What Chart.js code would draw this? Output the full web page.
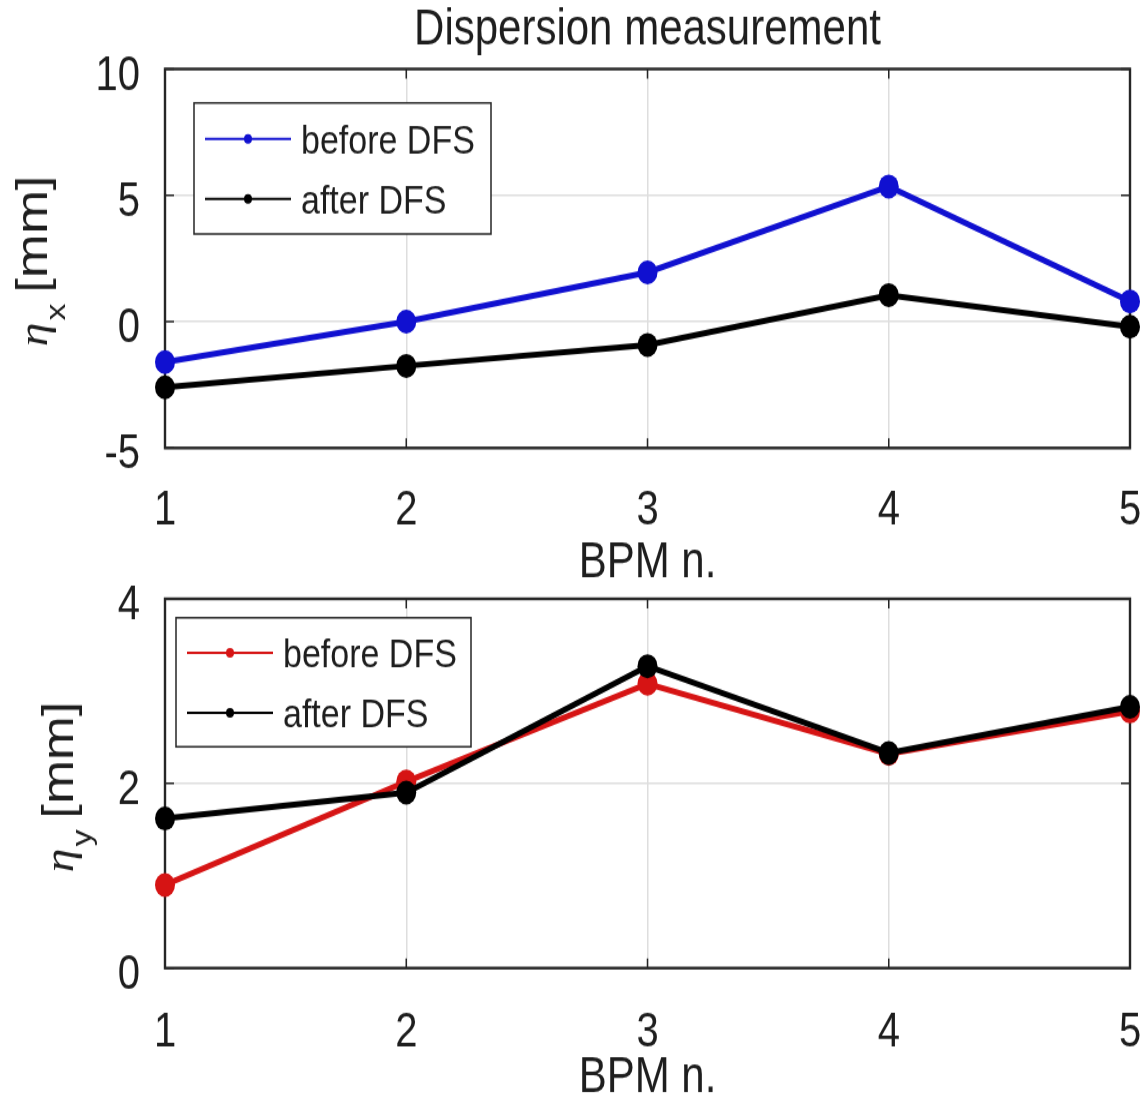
<!DOCTYPE html>
<html>
<head>
<meta charset="utf-8">
<title>Dispersion measurement</title>
<script src="https://cdn.jsdelivr.net/npm/chart.js@4.4.1/dist/chart.umd.min.js"></script>
<style>
  html, body { margin: 0; padding: 0; background: #fff; overflow: hidden; }
  #wrap { position: relative; width: 1145px; height: 1098px; overflow: hidden; }
  /* each panel is laid out short and stretched vertically (tall, narrow lettering) */
  .panel { position: absolute; left: 0; width: 1145px; transform: scaleY(1.2); transform-origin: 0 0; }
  #panelX { top: 0; height: 500px; }
  #panelY { top: 540px; height: 475px; }
</style>
</head>
<body>
<div id="wrap">
  <div class="panel" id="panelX"><canvas id="etaXChart"></canvas></div>
  <div class="panel" id="panelY"><canvas id="etaYChart"></canvas></div>
</div>
<script>
// ── data ────────────────────────────────────────────────────────
const bpmLabels = ['1', '2', '3', '4', '5'];

// horizontal dispersion eta_x [mm]
const etaXBefore = [-1.6, 0.0, 1.95, 5.35, 0.8];
const etaXAfter  = [-2.6, -1.75, -0.92, 1.05, -0.2];
const etaXTicks  = [-5, 0, 5, 10];

// vertical dispersion eta_y [mm]
const etaYBefore = [0.9, 2.02, 3.08, 2.32, 2.78];
const etaYAfter  = [1.62, 1.9, 3.27, 2.33, 2.83];
const etaYTicks  = [0, 2, 4];

const FONT = '"Liberation Sans", Arial, Helvetica, sans-serif';
const TEXT = '#1e1e1e';
const BLUE = '#1010d0';
const RED  = '#d61414';
const BLACK = '#000000';

// ── plugins ─────────────────────────────────────────────────────

// box around the axes with inward tick marks
const framePlugin = {
    id: 'frame',
    beforeDatasetsDraw(chart) {
        const { ctx, chartArea: a, scales: { x, y } } = chart;
        ctx.save();
        ctx.strokeStyle = '#262626';
        ctx.lineWidth = 1.5;
        ctx.beginPath();
        x.ticks.forEach(function (t, i) {
            const px = x.getPixelForTick(i);
            ctx.moveTo(px, a.bottom); ctx.lineTo(px, a.bottom - 8);
            ctx.moveTo(px, a.top);    ctx.lineTo(px, a.top + 8);
        });
        y.ticks.forEach(function (t, i) {
            const py = y.getPixelForTick(i);
            ctx.moveTo(a.left, py);  ctx.lineTo(a.left + 9, py);
            ctx.moveTo(a.right, py); ctx.lineTo(a.right - 9, py);
        });
        ctx.stroke();
        ctx.lineWidth = 2.4;
        ctx.strokeRect(a.left, a.top, a.width, a.height);
        ctx.restore();
    },
};

// boxed legend inside the axes, line + dot sample per series
const boxLegend = {
    id: 'boxLegend',
    afterDraw(chart, args, opts) {
        const { ctx, chartArea: a } = chart;
        const left = a.left + opts.dx;
        const top  = a.top + opts.dy;
        ctx.save();
        ctx.fillStyle = '#fff';
        ctx.fillRect(left, top, opts.width, opts.height);
        ctx.strokeStyle = '#262626';
        ctx.lineWidth = 1.5;
        ctx.strokeRect(left, top, opts.width, opts.height);

        ctx.font = '34px ' + FONT;
        ctx.textBaseline = 'middle';
        chart.data.datasets.forEach(function (ds, i) {
            const cy = top + opts.rowY[i];
            ctx.strokeStyle = ds.borderColor;
            ctx.lineWidth = 2;
            ctx.beginPath();
            ctx.moveTo(left + 11, cy);
            ctx.lineTo(left + 97, cy);
            ctx.stroke();
            ctx.fillStyle = ds.borderColor;
            ctx.beginPath();
            ctx.arc(left + 54, cy, 4, 0, Math.PI * 2);
            ctx.fill();
            ctx.fillStyle = TEXT;
            ctx.fillText(ds.label, left + 107, cy + 3);
        });
        ctx.restore();
    },
};

// rotated y label: eta with subscript, then [mm]
const etaLabel = {
    id: 'etaLabel',
    afterDraw(chart, args, opts) {
        const { ctx } = chart;
        const fEta  = 'italic 40px "Liberation Serif", serif';
        const fSub  = '28px ' + FONT;
        const fUnit = '44px ' + FONT;
        ctx.save();
        ctx.translate(opts.baseX, opts.centerY);
        ctx.rotate(-Math.PI / 2);
        ctx.fillStyle = TEXT;
        ctx.textBaseline = 'alphabetic';

        ctx.font = fEta;  const wEta  = ctx.measureText('η').width;
        ctx.font = fSub;  const wSub  = ctx.measureText(opts.sub).width;
        ctx.font = fUnit; const wUnit = ctx.measureText('[mm]').width;
        const gap = 9;
        let x0 = -(wEta + 2 + wSub + gap + wUnit) / 2;

        ctx.font = fEta;  ctx.fillText('η', x0, 0);         x0 += wEta + 2;
        ctx.font = fSub;  ctx.fillText(opts.sub, x0, 18);   x0 += wSub + gap;
        ctx.font = fUnit; ctx.fillText('[mm]', x0, 0);
        ctx.restore();
    },
};

// ── chart builders ──────────────────────────────────────────────

function makeDataset(label, data, color, order) {
    return {
        label: label,
        data: data,
        borderColor: color,
        backgroundColor: color,
        borderWidth: 5,
        pointRadius: 10,
        pointBorderWidth: 0,
        pointBackgroundColor: color,
        tension: 0,
        clip: false,
        order: order,
    };
}

function buildScales(yMin, yMax, yStep, xHeight, tickPad, titlePad) {
    return {
        x: {
            type: 'category',
            offset: false,
            afterFit: function (scale) {
                scale.height = xHeight;
                // keep the tick padding from widening the side margins
                scale.paddingLeft = 0;
                scale.paddingRight = 14;
            },
            grid: { color: '#dedede', lineWidth: 1.5, drawTicks: false },
            border: { display: false },
            ticks: {
                color: TEXT,
                font: { family: FONT, size: 40 },
                padding: tickPad,
                maxRotation: 0,
            },
            title: {
                display: true,
                text: 'BPM n.',
                color: TEXT,
                font: { family: FONT, size: 42 },
                padding: { top: 0, bottom: titlePad },
            },
        },
        y: {
            min: yMin,
            max: yMax,
            afterFit: function (scale) { scale.width = 165; },
            grid: { color: '#dedede', lineWidth: 1.5, drawTicks: false },
            border: { display: false },
            ticks: {
                stepSize: yStep,
                color: TEXT,
                font: { family: FONT, size: 40 },
                padding: 25,
                labelOffset: 6,
            },
        },
    };
}

// ── top panel: eta_x ───────────────────────────────────────────
new Chart(document.getElementById('etaXChart').getContext('2d'), {
    type: 'line',
    data: {
        labels: bpmLabels,
        datasets: [
            makeDataset('before DFS', etaXBefore, BLUE, 1),
            makeDataset('after DFS', etaXAfter, BLACK, 0),
        ],
    },
    options: {
        responsive: true,
        maintainAspectRatio: false,
        animation: false,
        layout: { padding: { left: 0, right: 15, top: 0, bottom: 0 } },
        scales: buildScales(etaXTicks[0], etaXTicks[etaXTicks.length - 1], 5, 126.7, 28.5, 5.6),
        plugins: {
            legend: { display: false },
            tooltip: { enabled: false },
            title: {
                display: true,
                fullSize: false,
                text: 'Dispersion measurement',
                color: TEXT,
                font: { family: FONT, size: 42, weight: 'normal' },
                padding: { top: 0, bottom: 7.1 },
            },
            boxLegend: { dx: 29, dy: 28.3, width: 297, height: 109.2, rowY: [30, 80] },
            etaLabel: { baseX: 47, centerY: 217.5, sub: 'x' },
        },
    },
    plugins: [framePlugin, boxLegend, etaLabel],
});

// ── bottom panel: eta_y ────────────────────────────────────────
new Chart(document.getElementById('etaYChart').getContext('2d'), {
    type: 'line',
    data: {
        labels: bpmLabels,
        datasets: [
            makeDataset('before DFS', etaYBefore, RED, 1),
            makeDataset('after DFS', etaYAfter, BLACK, 0),
        ],
    },
    options: {
        responsive: true,
        maintainAspectRatio: false,
        animation: false,
        layout: { padding: { left: 0, right: 15, top: 40, bottom: 0 } },
        scales: buildScales(etaYTicks[0], etaYTicks[etaYTicks.length - 1], 2, 118.3, 30, 1.5),
        plugins: {
            legend: { display: false },
            tooltip: { enabled: false },
            boxLegend: { dx: 11, dy: 15.8, width: 295, height: 107.5, rowY: [29.2, 79.2] },
            etaLabel: { baseX: 73, centerY: 205.8, sub: 'y' },
        },
    },
    plugins: [framePlugin, boxLegend, etaLabel],
});
</script>
</body>
</html>
